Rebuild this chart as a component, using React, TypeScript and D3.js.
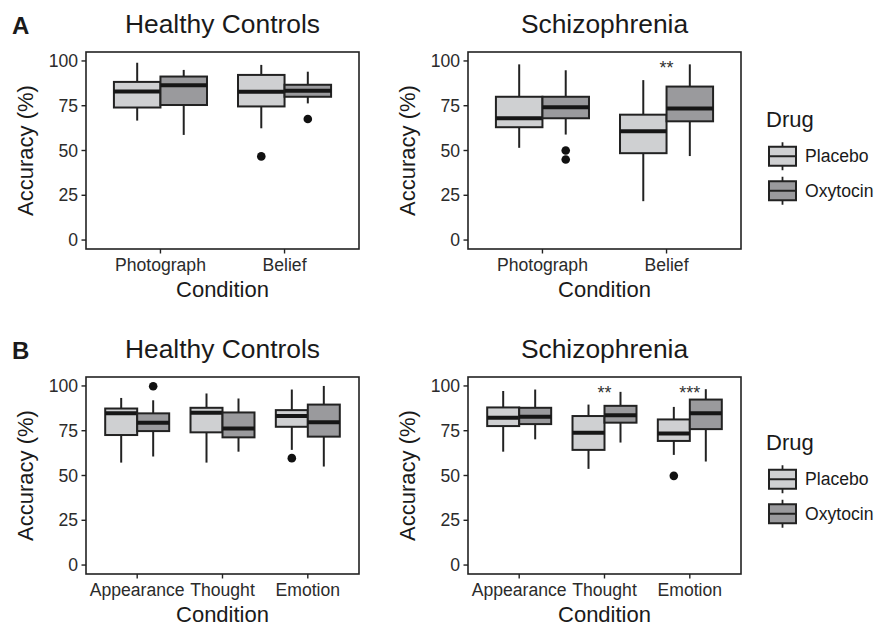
import React from "react";
import * as d3 from "d3";

// box stats per condition: [whiskerLow, q1, median, q3, whiskerHigh]
const conditionsA = ["Photograph", "Belief"];
const conditionsB = ["Appearance", "Thought", "Emotion"];
const drugs = ["Placebo", "Oxytocin"];
const yTicks = [0, 25, 50, 75, 100];

const hcA_placebo = [[66.7, 74, 83, 88.3, 99], [62.4, 74.6, 82.8, 92.2, 97.8]];
const hcA_oxytocin = [[58.7, 75.4, 86.5, 91.3, 95], [76.3, 80, 83.3, 86.7, 94]];
const hcA_outliers = [
  { cond: "Belief", drug: "Placebo", v: 46.7 },
  { cond: "Belief", drug: "Oxytocin", v: 67.6 },
];

const szA_placebo = [[51.5, 63, 68, 80, 98.1], [21.7, 48.5, 60.7, 70, 89.3]];
const szA_oxytocin = [[58.9, 68, 74.1, 80, 94.8], [46.9, 66.3, 73.5, 85.7, 98.1]];
const szA_outliers = [
  { cond: "Photograph", drug: "Oxytocin", v: 50 },
  { cond: "Photograph", drug: "Oxytocin", v: 45 },
];
const szA_stars = [{ cond: "Belief", label: "**" }];

const hcB_placebo = [[57.2, 72.6, 84.7, 87.4, 93.3], [57.2, 74.1, 85, 87.8, 95.8], [64.3, 77.2, 83.2, 86.5, 98]];
const hcB_oxytocin = [[60.6, 74.8, 79.5, 84.7, 92], [63.3, 71.3, 76.3, 85.2, 93], [55, 71.7, 79.7, 89.6, 100]];
const hcB_outliers = [
  { cond: "Appearance", drug: "Oxytocin", v: 99.8 },
  { cond: "Emotion", drug: "Placebo", v: 59.7 },
];

const szB_placebo = [[63.3, 77.6, 82.2, 88, 97.2], [53.7, 64.3, 73.9, 83.2, 89.6], [61.5, 69.3, 73.5, 81.3, 88.3]];
const szB_oxytocin = [[70.2, 78.7, 82.8, 87.8, 98], [68.4, 79.5, 83.7, 88.9, 96.7], [57.8, 75.9, 84.7, 92.4, 98.2]];
const szB_outliers = [{ cond: "Emotion", drug: "Placebo", v: 49.8 }];
const szB_stars = [
  { cond: "Thought", label: "**" },
  { cond: "Emotion", label: "***" },
];

const FONT = "'Liberation Sans', Arial, Helvetica, sans-serif";
const INK = "#222222";
const fillScale = d3.scaleOrdinal<string, string>().domain(drugs).range(["#cfd0d2", "#9a9a9d"]);

interface PanelProps {
  x0: number;
  y0: number;
  title: string;
  conditions: string[];
  placebo: number[][];
  oxytocin: number[][];
  outliers: { cond: string; drug: string; v: number }[];
  stars?: { cond: string; label: string }[];
}

const PW = 273;
const PH = 197;

const Panel: React.FC<PanelProps> = ({ x0, y0, title, conditions, placebo, oxytocin, outliers, stars = [] }) => {
  const x = d3.scalePoint<string>().domain(conditions).range([x0, x0 + PW]).padding(0.6);
  const y = d3.scaleLinear().domain([-5, 105]).range([y0 + PH, y0]);
  const step = x.step();
  const boxW = step * 0.375;
  const dodge = d3.scaleBand<string>().domain(drugs).range([-boxW, boxW]);

  const series = [placebo, oxytocin];
  const cx = (cond: string, drug: string) => (x(cond) as number) + (dodge(drug) as number) + boxW / 2;

  return (
    <g fontFamily={FONT}>
      <text x={x0 + PW / 2} y={y0 - 19} textAnchor="middle" fontSize={26.4} fill="#1a1a1a">{title}</text>
      {series.map((s, si) =>
        s.map((d, ci) => {
          const drug = drugs[si];
          const cond = conditions[ci];
          const c = cx(cond, drug);
          const left = (x(cond) as number) + (dodge(drug) as number);
          return (
            <g key={`${si}-${ci}`}>
              <line x1={c} x2={c} y1={y(d[4])} y2={y(d[3])} stroke={INK} strokeWidth={2} />
              <line x1={c} x2={c} y1={y(d[1])} y2={y(d[0])} stroke={INK} strokeWidth={2} />
              <rect x={left} y={y(d[3])} width={boxW} height={y(d[1]) - y(d[3])} fill={fillScale(drug)} stroke={INK} strokeWidth={2} />
              <line x1={left} x2={left + boxW} y1={y(d[2])} y2={y(d[2])} stroke="#161616" strokeWidth={4} />
            </g>
          );
        })
      )}
      {outliers.map((o, i) => (
        <circle key={i} cx={cx(o.cond, o.drug)} cy={y(o.v)} r={4.3} fill="#111" />
      ))}
      {stars.map((s, i) => (
        <text key={i} x={x(s.cond)} y={y(100) + 13} textAnchor="middle" fontSize={18} fill="#333">{s.label}</text>
      ))}
      <rect x={x0} y={y0} width={PW} height={PH} fill="none" stroke={INK} strokeWidth={1.6} />
      {yTicks.map((t) => (
        <g key={t}>
          <line x1={x0 - 4.5} x2={x0} y1={y(t)} y2={y(t)} stroke={INK} strokeWidth={1.4} />
          <text x={x0 - 8} y={y(t)} dy="0.35em" textAnchor="end" fontSize={17.6} fill="#2b2b2b">{t}</text>
        </g>
      ))}
      {conditions.map((c) => (
        <g key={c}>
          <line x1={x(c)} x2={x(c)} y1={y0 + PH} y2={y0 + PH + 4.5} stroke={INK} strokeWidth={1.4} />
          <text x={x(c)} y={y0 + PH + 22} textAnchor="middle" fontSize={17.6} fill="#2b2b2b">{c}</text>
        </g>
      ))}
      <text x={x0 + PW / 2} y={y0 + PH + 48} textAnchor="middle" fontSize={22} fill="#1a1a1a">Condition</text>
      <text transform={`translate(${x0 - 53},${y0 + PH / 2}) rotate(-90)`} textAnchor="middle" fontSize={22} fill="#1a1a1a">Accuracy (%)</text>
    </g>
  );
};

const Legend: React.FC<{ x0: number; y0: number }> = ({ x0, y0 }) => {
  const rows = d3.scaleBand<string>().domain(drugs).range([y0 + 12, y0 + 81]);
  const kw = 27;
  return (
    <g fontFamily={FONT}>
      <text x={x0 - 3} y={y0} fontSize={22} fill="#1a1a1a">Drug</text>
      {drugs.map((d) => {
        const cy = (rows(d) as number) + rows.bandwidth() / 2;
        return (
          <g key={d}>
            <line x1={x0 + kw / 2} x2={x0 + kw / 2} y1={cy - 14} y2={cy + 14} stroke={INK} strokeWidth={1.8} />
            <rect x={x0} y={cy - 9.5} width={kw} height={19} fill={fillScale(d)} stroke={INK} strokeWidth={2} />
            <line x1={x0} x2={x0 + kw} y1={cy} y2={cy} stroke={INK} strokeWidth={2} />
            <text x={x0 + 36} y={cy} dy="0.35em" fontSize={17.6} fill="#1a1a1a">{d}</text>
          </g>
        );
      })}
    </g>
  );
};

export default function App() {
  return (
    <svg width={874} height={629} style={{ position: "absolute", left: 0, top: 0, background: "#fff" }}>
      <rect width={874} height={629} fill="#fff" />
      <text x={12} y={34} fontFamily={FONT} fontWeight="bold" fontSize={24} fill="#1a1a1a">A</text>
      <text x={12} y={359} fontFamily={FONT} fontWeight="bold" fontSize={24} fill="#1a1a1a">B</text>
      <Panel x0={86} y0={52} title="Healthy Controls" conditions={conditionsA} placebo={hcA_placebo} oxytocin={hcA_oxytocin} outliers={hcA_outliers} />
      <Panel x0={468} y0={52} title="Schizophrenia" conditions={conditionsA} placebo={szA_placebo} oxytocin={szA_oxytocin} outliers={szA_outliers} stars={szA_stars} />
      <Panel x0={86} y0={377} title="Healthy Controls" conditions={conditionsB} placebo={hcB_placebo} oxytocin={hcB_oxytocin} outliers={hcB_outliers} />
      <Panel x0={468} y0={377} title="Schizophrenia" conditions={conditionsB} placebo={szB_placebo} oxytocin={szB_oxytocin} outliers={szB_outliers} stars={szB_stars} />
      <Legend x0={769} y0={127} />
      <Legend x0={769} y0={450} />
    </svg>
  );
}
